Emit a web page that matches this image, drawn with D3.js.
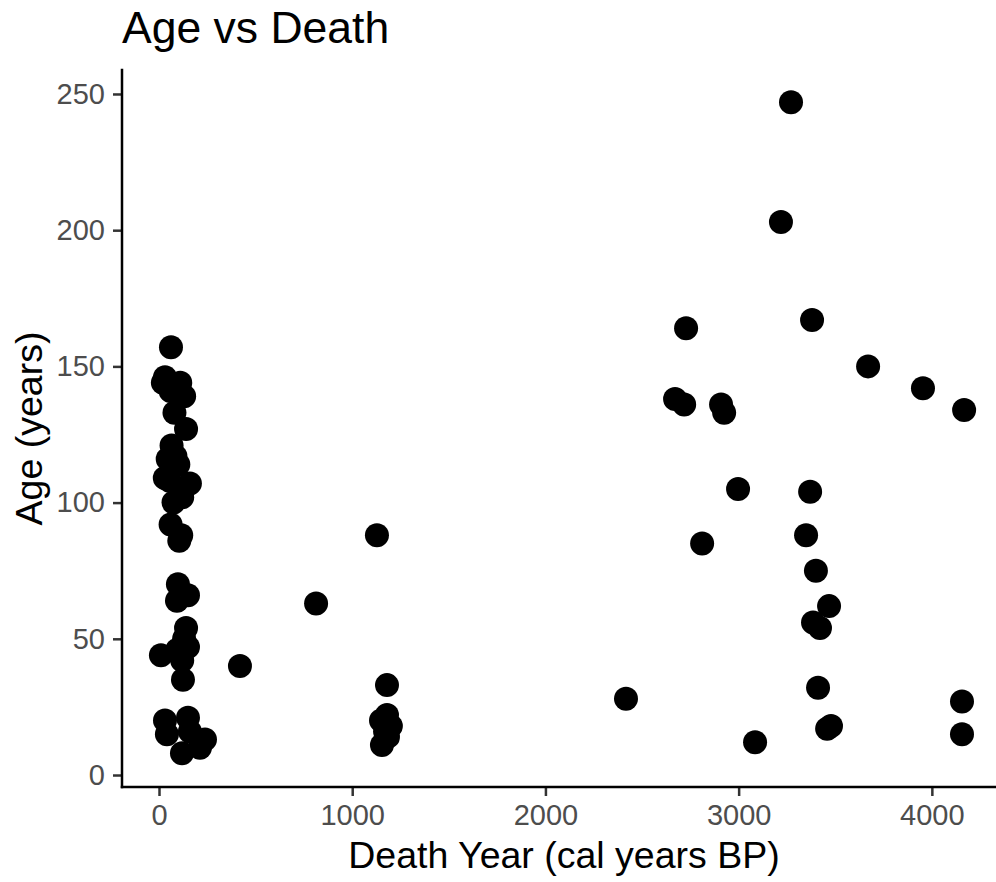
<!DOCTYPE html>
<html><head><meta charset="utf-8">
<script src="https://cdn.jsdelivr.net/npm/d3@7"></script>
<style>html,body{margin:0;padding:0;background:#fff;}svg{display:block;font-family:"Liberation Sans",Arial,sans-serif;}</style>
</head><body>
<script>
const chartTitle = "Age vs Death";
const xLabel = "Death Year (cal years BP)";
const yLabel = "Age (years)";
const xTicks = [0, 1000, 2000, 3000, 4000];
const yTicks = [0, 50, 100, 150, 200, 250];

const deathYear = [
  62, 31, 20, 110, 60, 130, 80, 140, 65, 85, 45, 100, 30, 55, 160, 120, 75, 60, 115, 105,
  98, 150, 93, 140, 130, 150, 95, 10, 120, 124,
  31, 150, 41, 160, 238, 119, 212,
  1180, 1180, 1149, 1200, 1154, 1185, 1170, 1128, 813, 419,
  3271, 3219, 2728, 3380, 3670, 3954, 4167, 2671, 2718, 2909, 2925, 2997, 3370, 3349, 2811,
  3400, 3468, 3385, 3421, 3411, 2417, 4156, 3478, 3458, 4156, 3085
];
const age = [
  157, 146, 144, 144, 141, 139, 133, 127, 121, 117, 116, 114, 109, 108, 107, 102, 100, 92, 88, 86,
  70, 66, 64, 54, 50, 47, 46, 44, 42, 35,
  20, 21, 15, 16, 13, 8, 10,
  33, 22, 20, 18, 11, 14, 16, 88, 63, 40,
  247, 203, 164, 167, 150, 142, 134, 138, 136, 136, 133, 105, 104, 88, 85,
  75, 62, 56, 54, 32, 28, 27, 18, 17, 15, 12
];

(function () {
const W = 996, H = 882;
const svg = d3.select("body").append("svg").attr("width", W).attr("height", H);
svg.append("rect").attr("width", W).attr("height", H).attr("fill", "#fff");

const pL = 122, pR = 996, pT = 70, pB = 787;
const x = d3.scaleLinear().domain([-191.5, 4332]).range([pL, pR]);
const y = d3.scaleLinear().domain([-4.4, 258.8]).range([pB, pT]);

const tickFont = 29;
const xa = svg.append("g").attr("transform", `translate(0,${pB})`)
  .call(d3.axisBottom(x).tickValues(xTicks).tickSize(9).tickPadding(8).tickFormat(d3.format("d")));
const ya = svg.append("g").attr("transform", `translate(${pL},0)`)
  .call(d3.axisLeft(y).tickValues(yTicks).tickSize(9).tickPadding(8).tickFormat(d3.format("d")));
[xa, ya].forEach(g => {
  g.select(".domain").remove();
  g.selectAll(".tick line").attr("stroke", "#333333").attr("stroke-width", 2.5);
  g.selectAll(".tick text").attr("fill", "#4D4D4D").style("font-size", tickFont + "px")
    .style("font-family", '"Liberation Sans",Arial,sans-serif');
});
svg.append("line").attr("x1", pL).attr("x2", pR).attr("y1", pB).attr("y2", pB)
  .attr("stroke", "#000").attr("stroke-width", 2.5).attr("stroke-linecap", "square");
svg.append("line").attr("x1", pL).attr("x2", pL).attr("y1", pT).attr("y2", pB)
  .attr("stroke", "#000").attr("stroke-width", 2.5).attr("stroke-linecap", "square");

const pts = deathYear.map((d, i) => ({x: d, y: age[i]}));
svg.append("g").selectAll("circle").data(pts).enter().append("circle")
  .attr("cx", d => x(d.x)).attr("cy", d => y(d.y)).attr("r", 12).attr("fill", "#000");

svg.append("text").attr("x", pL).attr("y", 43).text(chartTitle)
  .style("font-size", "44.5px").attr("fill", "#000");
svg.append("text").attr("x", 564).attr("y", 868).attr("text-anchor", "middle")
  .text(xLabel).style("font-size", "37.5px").attr("fill", "#000");
svg.append("text").attr("transform", `translate(42,${(pT + pB) / 2}) rotate(-90)`)
  .attr("text-anchor", "middle").text(yLabel).style("font-size", "37.5px").attr("fill", "#000");
})();
</script>
</body></html>
